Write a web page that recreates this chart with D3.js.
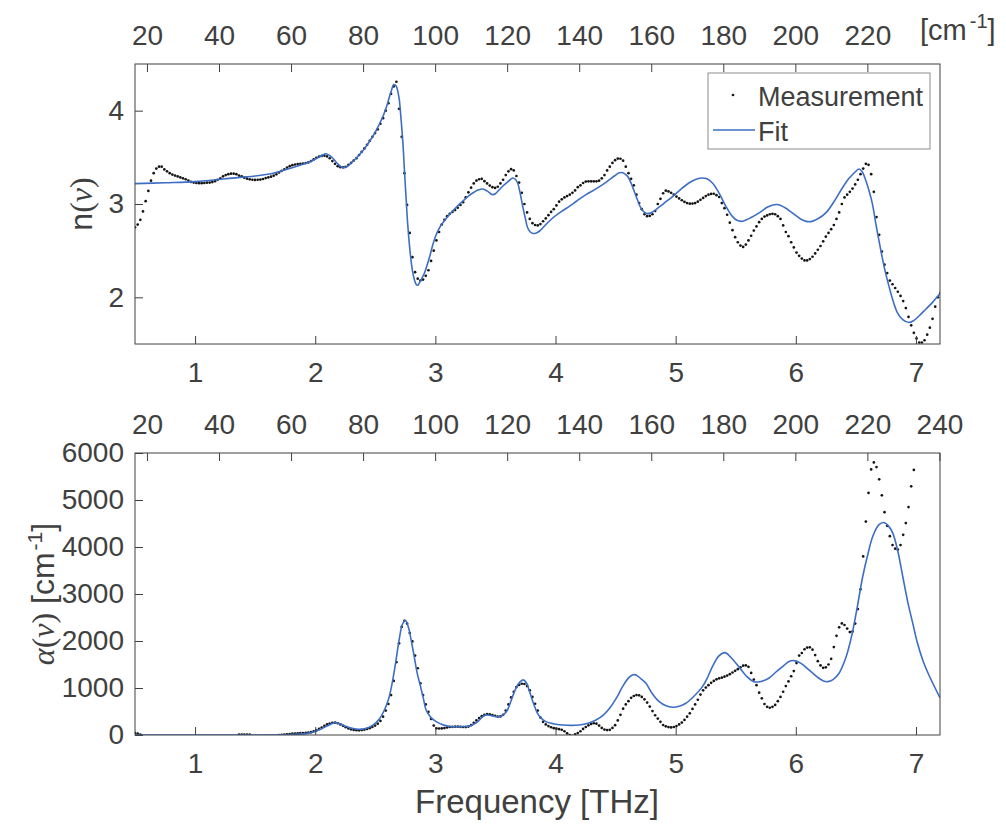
<!DOCTYPE html>
<html>
<head>
<meta charset="utf-8">
<script src="https://cdn.jsdelivr.net/npm/d3@7"></script>
<style>
  body { margin: 0; background: #fff; }
  svg text { font-family: "Liberation Sans", Arial, Helvetica, sans-serif; fill: #404040; }
</style>
</head>
<body>
<svg id="fig" width="1006" height="829"></svg>
<script>
// measurement grid (THz) - uniform sampling of the spectrometer
const measStart = 0.5, measStep = 0.0222;

// refractive index, measured
const nMeas = [
  2.75, 2.78, 2.83, 2.92, 3.03, 3.14, 3.25, 3.33, 3.38, 3.40,
  3.40, 3.37, 3.35, 3.33, 3.315, 3.305, 3.295, 3.285, 3.275, 3.265,
  3.25, 3.237, 3.23, 3.225, 3.223, 3.223, 3.225, 3.228, 3.23, 3.235,
  3.245, 3.26, 3.275, 3.296, 3.31, 3.32, 3.325, 3.325, 3.32, 3.305,
  3.296, 3.282, 3.271, 3.264, 3.26, 3.258, 3.26, 3.262, 3.268, 3.278,
  3.285, 3.293, 3.303, 3.318, 3.338, 3.355, 3.372, 3.39, 3.405, 3.416,
  3.423, 3.428, 3.43, 3.433, 3.438, 3.445, 3.46, 3.478, 3.495, 3.508,
  3.515, 3.518, 3.51, 3.49, 3.46, 3.43, 3.405, 3.395, 3.393, 3.398,
  3.42, 3.44, 3.465, 3.49, 3.525, 3.56, 3.595, 3.635, 3.677, 3.72,
  3.76, 3.80, 3.86, 3.92, 4.0, 4.08, 4.18, 4.26, 4.31, 4.02,
  3.72, 3.33, 2.99, 2.69, 2.43, 2.27, 2.2, 2.18, 2.19, 2.23,
  2.29, 2.39, 2.50, 2.61, 2.70, 2.78, 2.83, 2.87, 2.895, 2.915,
  2.935, 2.96, 2.99, 3.02, 3.07, 3.125, 3.175, 3.22, 3.25, 3.265,
  3.27, 3.245, 3.22, 3.197, 3.18, 3.172, 3.185, 3.22, 3.26, 3.31,
  3.35, 3.373, 3.36, 3.30, 3.23, 3.12, 3.00, 2.91, 2.84, 2.795,
  2.775, 2.77, 2.785, 2.815, 2.845, 2.88, 2.915, 2.945, 2.985, 3.025,
  3.05, 3.07, 3.085, 3.10, 3.12, 3.145, 3.18, 3.20, 3.225, 3.24,
  3.243, 3.243, 3.243, 3.243, 3.25, 3.275, 3.31, 3.36, 3.40, 3.44,
  3.47, 3.487, 3.485, 3.464, 3.40, 3.33, 3.27, 3.20, 3.10, 3.01,
  2.945, 2.89, 2.87, 2.873, 2.89, 2.925, 3.00, 3.055, 3.115, 3.143,
  3.135, 3.12, 3.10, 3.08, 3.06, 3.04, 3.022, 3.01, 3.004, 3.005,
  3.01, 3.025, 3.045, 3.065, 3.085, 3.10, 3.108, 3.11, 3.095, 3.075,
  3.01, 2.955, 2.885, 2.80, 2.72, 2.645, 2.59, 2.555, 2.54, 2.565,
  2.61, 2.66, 2.715, 2.76, 2.805, 2.84, 2.865, 2.878, 2.89, 2.895,
  2.89, 2.87, 2.84, 2.77, 2.70, 2.655, 2.59, 2.535, 2.48, 2.445,
  2.415, 2.395, 2.395, 2.41, 2.435, 2.47, 2.51, 2.55, 2.60, 2.65,
  2.69, 2.73, 2.775, 2.84, 2.91, 3.0, 3.07, 3.10, 3.13, 3.165,
  3.21, 3.26, 3.32, 3.38, 3.43, 3.42, 3.32, 3.13, 2.86, 2.67,
  2.49, 2.35, 2.26, 2.18, 2.14, 2.10, 2.06, 2.015, 1.96, 1.885,
  1.79, 1.70, 1.62, 1.56, 1.516, 1.516, 1.54, 1.60, 1.675, 1.77,
  1.90, 2.0, 2.05
];

// absorption coefficient, measured [cm^-1]
const alphaMeas = [
  45, 30, 10, -40, -60, -60, -60, -60, -60, -60,
  -60, -60, -60, -60, -60, -60, -60, -60, -60, -60,
  -60, -60, -60, -60, -60, -60, -60, -60, -60, -60,
  -60, -60, -60, -60, -60, -60, -60, -60, -60, 8,
  10, 8, 8, 6, -30, -60, -60, -60, -60, -60,
  -60, -60, -40, -20, 0, 5, 10, 15, 20, 28,
  32, 36, 40, 42, 45, 50, 60, 78, 100, 130,
  160, 195, 225, 245, 258, 262, 250, 225, 195, 165,
  140, 120, 108, 102, 100, 104, 112, 130, 145, 170,
  200, 240, 300, 390, 520, 660, 850, 1150, 1550, 1950,
  2300, 2430, 2370, 2170, 1990, 1690, 1420, 1100, 850, 650,
  490, 340, 200, 142, 138, 140, 148, 160, 170, 175,
  178, 178, 175, 170, 168, 180, 210, 260, 310, 360,
  400, 430, 445, 440, 425, 405, 392, 395, 430, 520,
  650, 800, 920, 1020, 1065, 1090, 1085, 1040, 950, 810,
  665, 520, 370, 280, 225, 190, 165, 145, 135, 125,
  110, 80, 35, 0, -20, 15, 40, 80, 130, 170,
  205, 235, 250, 240, 200, 150, 115, 105, 110, 150,
  210, 310, 430, 560, 650, 720, 790, 830, 850, 845,
  810, 760, 690, 605, 510, 420, 350, 280, 213, 185,
  168, 162, 170, 192, 225, 265, 320, 390, 462, 555,
  650, 750, 860, 950, 1010, 1060, 1110, 1150, 1185, 1205,
  1220, 1240, 1265, 1295, 1330, 1365, 1400, 1440, 1475, 1480,
  1450, 1320, 1180, 1060, 900, 780, 660, 600, 580, 600,
  640, 720, 810, 920, 1040, 1140, 1250, 1360, 1530, 1690,
  1745, 1825, 1860, 1865, 1815, 1700, 1570, 1480, 1430, 1440,
  1500, 1620, 1870, 2110, 2290, 2375, 2340, 2265, 2190, 2200,
  2370, 2680, 3100, 3800, 4540, 5150, 5650, 5800, 5700, 5440,
  5100, 4740, 4450, 4230, 4040, 3965, 3945, 4040, 4260, 4510,
  4850, 5290, 5640, 6150, 6600
];

// fitted model, refractive index
const nFitFreq = [0.5, 0.75, 1.0, 1.25, 1.5, 1.65, 1.8, 1.9, 1.98, 2.05, 2.09, 2.12, 2.147, 2.18, 2.216, 2.24, 2.27, 2.3, 2.34, 2.4,
  2.452, 2.5, 2.563, 2.6, 2.63, 2.655, 2.674, 2.69, 2.70, 2.715, 2.73, 2.743, 2.757, 2.77, 2.785, 2.80, 2.812, 2.825, 2.84, 2.853,
  2.868, 2.89, 2.91, 2.93, 2.95, 2.978, 3.0, 3.034, 3.075, 3.117, 3.17, 3.228, 3.28, 3.325, 3.36, 3.394, 3.43, 3.46, 3.477, 3.50,
  3.53, 3.56, 3.6, 3.644, 3.665, 3.685, 3.705, 3.727, 3.748, 3.768, 3.79, 3.816, 3.84, 3.865, 3.92, 3.976, 4.05, 4.115, 4.18, 4.254,
  4.34, 4.42, 4.49, 4.53, 4.56, 4.60, 4.63, 4.655, 4.685, 4.71, 4.74, 4.766, 4.80, 4.836, 4.9, 4.974, 5.04, 5.11, 5.17, 5.223,
  5.26, 5.306, 5.36, 5.418, 5.47, 5.51, 5.556, 5.62, 5.695, 5.77, 5.847, 5.91, 5.97, 6.04, 6.11, 6.18, 6.25, 6.32, 6.387, 6.44,
  6.485, 6.526, 6.55, 6.58, 6.61, 6.636, 6.67, 6.706, 6.74, 6.775, 6.81, 6.845, 6.89, 6.94, 6.98, 7.025, 7.08, 7.136, 7.2];
const nFitVal = [3.218, 3.228, 3.24, 3.27, 3.30, 3.33, 3.385, 3.425, 3.467, 3.515, 3.538, 3.52, 3.49, 3.44, 3.398, 3.39, 3.405, 3.44, 3.49, 3.575,
  3.67, 3.77, 3.937, 4.07, 4.2, 4.28, 4.265, 4.19, 4.115, 3.90, 3.65, 3.35, 3.047, 2.78, 2.548, 2.37, 2.264, 2.19, 2.139, 2.13,
  2.157, 2.21, 2.264, 2.34, 2.424, 2.56, 2.65, 2.745, 2.82, 2.887, 2.96, 3.03, 3.09, 3.129, 3.152, 3.161, 3.14, 3.11, 3.10, 3.11,
  3.15, 3.19, 3.235, 3.279, 3.265, 3.225, 3.12, 2.975, 2.85, 2.745, 2.70, 2.684, 2.69, 2.708, 2.78, 2.85, 2.92, 2.975, 3.035, 3.10,
  3.165, 3.232, 3.30, 3.335, 3.335, 3.296, 3.22, 3.136, 3.035, 2.958, 2.91, 2.897, 2.91, 2.94, 3.005, 3.08, 3.155, 3.225, 3.265, 3.279,
  3.27, 3.225, 3.12, 2.975, 2.87, 2.825, 2.815, 2.85, 2.905, 2.97, 2.994, 2.96, 2.905, 2.84, 2.81, 2.84, 2.905, 3.03, 3.172, 3.27,
  3.332, 3.375, 3.35, 3.26, 3.14, 3.01, 2.76, 2.513, 2.30, 2.12, 1.96, 1.837, 1.76, 1.73, 1.75, 1.80, 1.87, 1.943, 2.04];

// fitted model, absorption
const aFitFreq = [0.5, 1.5, 1.8, 1.95, 2.05, 2.12, 2.16, 2.2, 2.26, 2.34, 2.42, 2.48, 2.53, 2.57, 2.61, 2.64, 2.67, 2.70, 2.725, 2.75,
  2.775, 2.80, 2.825, 2.85, 2.87, 2.90, 2.923, 2.96, 3.007, 3.07, 3.145, 3.22, 3.284, 3.34, 3.39, 3.42, 3.47, 3.533, 3.57, 3.60,
  3.64, 3.67, 3.70, 3.732, 3.76, 3.78, 3.81, 3.85, 3.88, 3.92, 3.98, 4.06, 4.13, 4.198, 4.27, 4.337, 4.40, 4.45, 4.51, 4.558,
  4.61, 4.645, 4.67, 4.71, 4.753, 4.80, 4.863, 4.92, 4.974, 5.03, 5.085, 5.15, 5.223, 5.27, 5.306, 5.36, 5.41, 5.46, 5.525, 5.59,
  5.65, 5.71, 5.775, 5.83, 5.89, 5.94, 5.985, 6.04, 6.11, 6.18, 6.23, 6.266, 6.31, 6.36, 6.41, 6.44, 6.47, 6.51, 6.557, 6.60,
  6.64, 6.69, 6.732, 6.77, 6.807, 6.85, 6.89, 6.93, 6.973, 7.01, 7.056, 7.10, 7.14, 7.2];
const aFitVal = [0, 0, 10, 40, 130, 220, 262, 245, 180, 125, 140, 210, 330, 500, 760, 1100, 1550, 2050, 2350, 2440,
  2300, 2000, 1650, 1300, 1101, 780, 532, 380, 284, 210, 177, 180, 192, 260, 380, 426, 410, 390, 440, 532,
  800, 994, 1120, 1172, 1100, 958, 720, 462, 360, 284, 240, 213, 205, 213, 250, 320, 430, 568, 800, 1029,
  1220, 1280, 1278, 1200, 1101, 900, 710, 620, 590, 610, 675, 820, 1029, 1250, 1455, 1683, 1753, 1650, 1455, 1250,
  1135, 1140, 1207, 1330, 1455, 1560, 1583, 1530, 1385, 1230, 1150, 1135, 1180, 1314, 1600, 1850, 2166, 2700, 3372, 3850,
  4224, 4470, 4522, 4450, 4296, 3900, 3372, 2850, 2379, 1980, 1598, 1320, 1101, 790];

// ticks
const thzTicks = [1, 2, 3, 4, 5, 6, 7];
const cmTicksTop = [20, 40, 60, 80, 100, 120, 140, 160, 180, 200, 220];
const cmTicksBottom = [20, 40, 60, 80, 100, 120, 140, 160, 180, 200, 220, 240];
const nTicks = [2, 3, 4];
const alphaTicks = [0, 1000, 2000, 3000, 4000, 5000, 6000];

const THZ_TO_CM = 33.356;
const xDomain = [0.5, 7.2];
const axisColor = "#404040";
const fitColor = "#3d6ec4";
const tickFont = 28;
const labelFont = 32;

const svg = d3.select("#fig");
const left = 135, right = 940;

function drawPanel(o) {
  const x = d3.scaleLinear().domain(xDomain).range([left, right]);
  const xc = d3.scaleLinear().domain(xDomain.map(d => d * THZ_TO_CM)).range([left, right]);
  const y = d3.scaleLinear().domain(o.yDomain).range([o.top + o.height, o.top]);

  const g = svg.append("g");
  g.append("clipPath").attr("id", o.id + "-clip")
    .append("rect").attr("x", left).attr("y", o.top).attr("width", right - left).attr("height", o.height);

  const plot = g.append("g").attr("clip-path", `url(#${o.id}-clip)`);

  // measured points
  plot.selectAll("circle").data(o.meas).enter().append("circle")
    .attr("cx", (d, i) => x(measStart + i * measStep))
    .attr("cy", d => y(d))
    .attr("r", 1.35)
    .attr("fill", "#151515");

  // fit
  const line = d3.line().x(d => x(d[0])).y(d => y(d[1])).curve(d3.curveCatmullRom.alpha(0.5));
  plot.append("path")
    .datum(o.fitF.map((f, i) => [f, o.fitV[i]]))
    .attr("d", line)
    .attr("fill", "none")
    .attr("stroke", fitColor)
    .attr("stroke-width", 1.6);

  // axes (ticks point inward like matlab)
  const styleAxis = sel => {
    sel.select(".domain").remove();
    sel.selectAll("line").attr("stroke", axisColor);
    sel.selectAll("text").attr("font-size", tickFont).attr("fill", axisColor)
      .style("font-family", '"Liberation Sans", Arial, sans-serif');
  };
  g.append("g").attr("transform", `translate(0,${o.top + o.height})`)
    .call(d3.axisBottom(x).tickValues(thzTicks).tickSizeInner(-8).tickSizeOuter(0).tickPadding(18).tickFormat(d3.format("d")))
    .call(styleAxis);
  g.append("g").attr("transform", `translate(0,${o.top})`)
    .call(d3.axisTop(xc).tickValues(o.cmTicks).tickSizeInner(-8).tickSizeOuter(0).tickPadding(19).tickFormat(d3.format("d")))
    .call(styleAxis);
  g.append("g").attr("transform", `translate(${left},0)`)
    .call(d3.axisLeft(y).tickValues(o.yTicks).tickSizeInner(-8).tickSizeOuter(0).tickPadding(11).tickFormat(d3.format("d")))
    .call(styleAxis);

  g.append("rect")
    .attr("x", left).attr("y", o.top).attr("width", right - left).attr("height", o.height)
    .attr("fill", "none").attr("stroke", axisColor).attr("stroke-width", 1);

  return { x, y, g };
}

const panelN = drawPanel({
  id: "n", top: 64, height: 280, yDomain: [1.5, 4.5], yTicks: nTicks,
  meas: nMeas, fitF: nFitFreq, fitV: nFitVal, cmTicks: cmTicksTop
});
const panelA = drawPanel({
  id: "a", top: 453, height: 282, yDomain: [0, 6000], yTicks: alphaTicks,
  meas: alphaMeas, fitF: aFitFreq, fitV: aFitVal, cmTicks: cmTicksBottom
});

// y labels
const serif = '"Liberation Serif", "DejaVu Serif", serif';
const nLab = svg.append("text").attr("transform", "translate(92,204) rotate(-90)")
  .attr("text-anchor", "middle").attr("font-size", labelFont);
nLab.append("tspan").text("n");
nLab.append("tspan").style("font-family", serif).text("(");
nLab.append("tspan").style("font-family", serif).style("font-style", "italic").text("ν");
nLab.append("tspan").style("font-family", serif).text(")");

const aLab = svg.append("text").attr("transform", "translate(54,594) rotate(-90)")
  .attr("text-anchor", "middle").attr("font-size", labelFont);
aLab.append("tspan").style("font-family", serif).style("font-style", "italic").text("α");
aLab.append("tspan").style("font-family", serif).text("(");
aLab.append("tspan").style("font-family", serif).style("font-style", "italic").text("ν");
aLab.append("tspan").style("font-family", serif).text(")");
aLab.append("tspan").text(" [cm");
aLab.append("tspan").attr("font-size", 21).attr("dx", 2).attr("dy", -12).text("-1");
aLab.append("tspan").attr("dy", 12).text("]");

// x label
svg.append("text").attr("x", 537).attr("y", 813).attr("text-anchor", "middle")
  .attr("font-size", labelFont + 1).text("Frequency [THz]");

// top right unit
const unit = svg.append("text").attr("x", 920).attr("y", 40).attr("font-size", 29);
unit.append("tspan").text("[cm");
unit.append("tspan").attr("font-size", 20).attr("dx", 3).attr("dy", -12).text("-1");
unit.append("tspan").attr("dy", 12).text("]");

// legend
const lg = svg.append("g");
lg.append("rect").attr("x", 708).attr("y", 73).attr("width", 222).attr("height", 76)
  .attr("fill", "#fff").attr("stroke", "#8c8c8c").attr("stroke-width", 1);
lg.append("circle").attr("cx", 733).attr("cy", 95).attr("r", 1.35).attr("fill", "#151515");
lg.append("text").attr("x", 758).attr("y", 106).attr("font-size", 27).attr("fill", "#262626").text("Measurement");
lg.append("line").attr("x1", 713).attr("x2", 755).attr("y1", 130).attr("y2", 130)
  .attr("stroke", fitColor).attr("stroke-width", 1.6);
lg.append("text").attr("x", 758).attr("y", 141).attr("font-size", 27).attr("fill", "#262626").text("Fit");
</script>
</body>
</html>
